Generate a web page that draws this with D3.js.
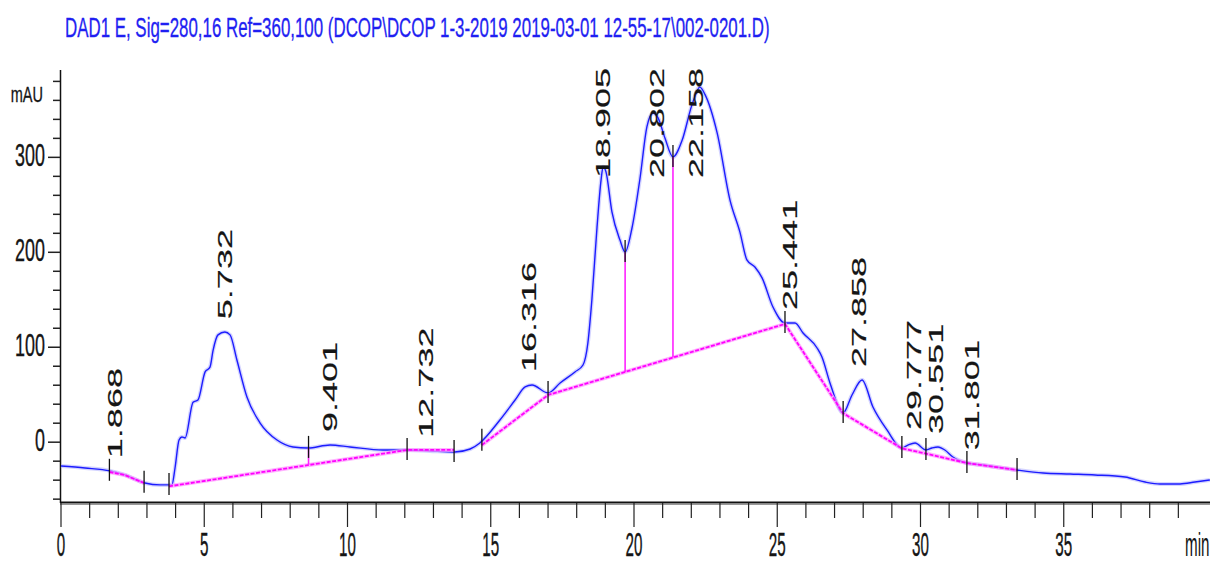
<!DOCTYPE html>
<html><head><meta charset="utf-8">
<script src="https://cdn.jsdelivr.net/npm/d3@7"></script>
<style>body{margin:0;background:#fff} svg{display:block}</style>
</head><body><svg id="c" width="1210" height="563"></svg>
<script>
const titleText = "DAD1 E, Sig=280,16 Ref=360,100 (DCOP\\DCOP 1-3-2019 2019-03-01 12-55-17\\002-0201.D)";
const yUnit = "mAU";
const xUnit = "min";
const xTickLabels = [0, 5, 10, 15, 20, 25, 30, 35];
const yTickLabels = [0, 100, 200, 300];

// chromatogram trace (min, mAU)
const timeMin = [0, 0.84, 1.71, 2.23, 2.93, 3.46, 3.87, 3.98, 4.12, 4.22, 4.33, 4.61, 4.78, 5.03, 5.2, 5.31, 5.48, 5.72, 5.9, 6.14, 6.49, 6.95, 7.54, 8.1, 8.62, 9.39, 10.09, 11.24, 12.08, 12.88, 13.75, 14.28, 14.62, 15.32, 15.85, 16.2, 16.44, 17.0, 17.42, 17.94, 18.22, 18.39, 18.53, 18.71, 18.85, 18.92, 19.02, 19.23, 19.51, 19.69, 19.93, 20.21, 20.45, 20.66, 20.84, 21.08, 21.36, 21.68, 22.02, 22.3, 22.48, 22.9, 23.35, 23.7, 23.94, 24.22, 24.47, 24.85, 25.27, 25.62, 25.9, 26.39, 26.56, 26.84, 27.3, 27.61, 27.96, 28.34, 28.83, 29.35, 29.56, 29.81, 30.19, 30.4, 30.61, 30.85, 31.13, 31.62, 32.18, 33.37, 34.28, 35.22, 36.09, 37.14, 37.84, 38.36, 39.06, 39.58, 40.1];
const signalMAU = [-25.1, -27.2, -30.2, -34.5, -43, -45, -45, -27.2, 2.3, 5.5, 4.4, 42, 44.4, 74, 79, 97, 113, 116, 113, 86.6, 47.6, 20.2, 2.3, -5, -6.1, -2.9, -5, -8.2, -8.2, -9.3, -10.3, -7.2, -0.8, 23.4, 44.4, 58.2, 60.2, 51.8, 62.4, 74, 81.3, 104.5, 150, 226.7, 276, 290, 285, 242.5, 213, 200.3, 225.6, 278, 332, 346.7, 341.5, 320.4, 300.4, 318, 355, 374, 366, 326, 255, 221, 192, 184.5, 173, 142.4, 125.6, 125.6, 115, 99.2, 89.7, 62.4, 30.8, 49.7, 65.5, 37, 12.9, -6.1, -3, -0.8, -8.2, -6.1, -5, -8.2, -15.6, -21.9, -24, -29.3, -32.4, -33.5, -34.5, -36.7, -42, -44, -44, -42, -39.8];

// integration baselines (null = break)
const baselineT = [1.69, 2.23, 2.9, null, 3.77, 12.08, 13.72, null, 14.69, 17.0, 25.27, 27.3, 29.35, 30.19, 31.62, 33.37];
const baselineV = [-31.4, -34.7, -43, null, -46.5, -8.2, -8.2, null, -3, 49.7, 124.5, 30.5, -6.5, -12, -22, -29.3];

const dropLineT = [8.64, 19.69, 21.36];
const markerT = [1.69, 2.9, 3.77, 8.64, 12.08, 13.72, 14.69, 17.0, 19.69, 21.36, 25.27, 27.3, 29.35, 30.19, 31.62, 33.37];
const peakRT = [1.868, 5.732, 9.401, 12.732, 16.316, 18.905, 20.802, 22.158, 25.441, 27.858, 29.777, 30.551, 31.801];

const svg = d3.select("#c");
const x = d3.scaleLinear().domain([0, 40.5]).range([61, 61 + 40.5 * 28.65]);
const y = d3.scaleLinear().domain([-63, 392]).range([502, 70]);

function interp(ts, vs, t) {
  const pts = [];
  for (let i = 0; i < ts.length; i++) if (ts[i] !== null) pts.push([ts[i], vs[i]]);
  for (let i = 0; i < pts.length - 1; i++) {
    if (t >= pts[i][0] && t <= pts[i + 1][0]) {
      const f = (t - pts[i][0]) / (pts[i + 1][0] - pts[i][0]);
      return pts[i][1] + f * (pts[i + 1][1] - pts[i][1]);
    }
  }
  return null;
}
const sig = t => interp(timeMin, signalMAU, t);
const base = t => interp(baselineT, baselineV, t);

const font = "'Liberation Sans', Arial, sans-serif";
const ink = "#151515";

// title (horizontally compressed to match)
{
  const g = svg.append("g");
  const t = g.append("text").attr("font-family", font).attr("font-size", 28)
    .attr("fill", "#1f1ff2").attr("stroke", "#1f1ff2").attr("stroke-width", 0.35).text(titleText);
  const w = t.node().getComputedTextLength();
  g.attr("transform", `translate(65,37) scale(${705 / w},1)`);
}

// axes
const gx = svg.append("g");
gx.append("line").attr("x1", 60).attr("x2", 1210).attr("y1", 502.5).attr("y2", 502.5)
  .attr("stroke", "#111").attr("stroke-width", 2);
gx.append("line").attr("x1", 60).attr("x2", 1210).attr("y1", 504.5).attr("y2", 504.5)
  .attr("stroke", "#999").attr("stroke-width", 1);
const xt = d3.range(0, 40, 1);
gx.selectAll(".xt").data(xt).join("line")
  .attr("x1", d => x(d)).attr("x2", d => x(d))
  .attr("y1", 503).attr("y2", d => d % 5 === 0 ? 527 : 518)
  .attr("stroke", "#222").attr("stroke-width", 1.2);
gx.selectAll(".xl").data(xTickLabels).join("g")
  .attr("transform", d => `translate(${x(d)},555.5)`)
  .append("text").attr("transform", "scale(0.46,1)")
  .attr("text-anchor", "middle").attr("font-family", font).attr("font-size", 33)
  .attr("fill", ink).attr("stroke", ink).attr("stroke-width", 0.4)
  .text(d => d);
svg.append("g").attr("transform", "translate(1185,555.5)")
  .append("text").attr("transform", "scale(0.46,1)")
  .attr("font-family", font).attr("font-size", 33).attr("fill", ink).text(xUnit);

const gy = svg.append("g");
gy.append("line").attr("x1", 60.5).attr("x2", 60.5).attr("y1", 70).attr("y2", 503)
  .attr("stroke", "#111").attr("stroke-width", 1.5);
const yt = d3.range(-60, 391, 20);
gy.selectAll(".yt").data(yt).join("line")
  .attr("x1", d => d % 100 === 0 ? 48 : 53).attr("x2", 60)
  .attr("y1", d => y(d)).attr("y2", d => y(d))
  .attr("stroke", "#222").attr("stroke-width", 1.5);
gy.selectAll(".yl").data(yTickLabels).join("g")
  .attr("transform", d => `translate(45,${y(d) + 9})`)
  .append("text").attr("transform", "scale(0.56,1)")
  .attr("text-anchor", "end").attr("font-family", font).attr("font-size", 32)
  .attr("fill", ink).attr("stroke", ink).attr("stroke-width", 0.4)
  .text(d => d);
svg.append("g").attr("transform", "translate(43,102)")
  .append("text").attr("transform", "scale(0.66,1)")
  .attr("text-anchor", "end").attr("font-family", font).attr("font-size", 22)
  .attr("fill", ink).attr("stroke", ink).attr("stroke-width", 0.3)
  .text(yUnit);

// trace
const traceData = timeMin.map((t, i) => [t, signalMAU[i]]);
const line = d3.line().x(d => x(d[0])).y(d => y(d[1])).curve(d3.curveMonotoneX);
svg.append("path").datum(traceData).attr("d", line)
  .attr("fill", "none").attr("stroke", "#b8b8ff").attr("stroke-width", 4).attr("opacity", 0.6);
svg.append("path").datum(traceData).attr("d", line)
  .attr("fill", "none").attr("stroke", "#1c1cff").attr("stroke-width", 1.4);

// baselines
const baseData = baselineT.map((t, i) => [t, baselineV[i]]);
const bline = d3.line().defined(d => d[0] !== null).x(d => x(d[0])).y(d => y(d[1]));
svg.append("path").datum(baseData).attr("d", bline)
  .attr("fill", "none").attr("stroke", "#ff99ff").attr("stroke-width", 4).attr("opacity", 0.75);
svg.append("path").datum(baseData).attr("d", bline)
  .attr("fill", "none").attr("stroke", "#ff00ff").attr("stroke-width", 1.8)
  .attr("stroke-dasharray", "4,1.5");

// drop lines
svg.selectAll(".drop").data(dropLineT).join("line")
  .attr("x1", d => x(d)).attr("x2", d => x(d))
  .attr("y1", d => y(sig(d))).attr("y2", d => y(base(d)))
  .attr("stroke", "#ff22ff").attr("stroke-width", 1.6);

// peak start/end markers
svg.selectAll(".mk").data(markerT).join("line")
  .attr("x1", d => x(d)).attr("x2", d => x(d))
  .attr("y1", d => y(sig(d)) - 12).attr("y2", d => y(sig(d)) + 10)
  .attr("stroke", "#111").attr("stroke-width", 1.3);

// retention time labels
const labFS = 36, labS = 0.55;
svg.selectAll(".pl").data(peakRT).join("g")
  .each(function (t) {
    const txt = t.toFixed(3);
    const g = d3.select(this);
    const tmp = g.append("text").attr("font-family", font).attr("font-size", labFS).text(txt);
    const len = tmp.node().getComputedTextLength();
    tmp.remove();
    let peak = -1e9;
    for (let k = -0.12; k <= 0.121; k += 0.02) { const v = sig(t + k); if (v !== null && v > peak) peak = v; }
    let bottom = y(peak) - 13;
    if (bottom - len < 68) bottom = 68 + len;
    const capH = 0.716 * labFS * labS;
    g.attr("transform", `translate(${x(t) + capH / 2},${bottom}) scale(${labS},1) rotate(-90)`)
      .append("text").attr("font-family", font).attr("font-size", labFS)
      .attr("fill", ink).attr("stroke", ink).attr("stroke-width", 0.3)
      .text(txt);
  });
</script></body></html>
